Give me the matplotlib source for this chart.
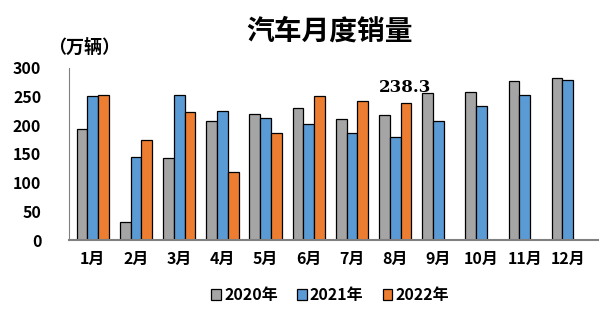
import numpy as np
import matplotlib.pyplot as plt

plt.rcParams['font.family'] = ['Noto Sans CJK SC', 'DejaVu Sans']

# 数据（万辆）
months = ['1月', '2月', '3月', '4月', '5月', '6月', '7月', '8月', '9月', '10月', '11月', '12月']
sales_2020 = [194.1, 31.0, 143.0, 207.0, 219.4, 230.0, 211.2, 218.6, 256.5, 257.3, 276.5, 283.1]
sales_2021 = [250.3, 145.5, 252.6, 225.2, 212.8, 201.5, 186.4, 179.9, 207.1, 233.3, 252.2, 278.6]
sales_2022 = [253.1, 173.7, 223.4, 118.1, 186.2, 250.2, 242.0, 238.3]

colors = ['#A5A5A5', '#5B9BD5', '#ED7D31']
labels = ['2020年', '2021年', '2022年']

fig = plt.figure(figsize=(6.06, 3.28), dpi=100)
ax = fig.add_axes([0.114, 0.268, 0.873, 0.525])

x = np.arange(len(months))
w = 0.25
for i, vals in enumerate([sales_2020, sales_2021, sales_2022]):
    xs = x[:len(vals)] + (i - 1) * w
    ax.bar(xs, vals, width=w, color=colors[i], edgecolor='black', linewidth=0.9, label=labels[i])

# 8月标注
ax.text(x[7] + w * 0.9, sales_2022[7] + 12, f'{sales_2022[7]}', ha='center', va='bottom',
        fontsize=12, fontweight='bold', family=['DejaVu Serif'])

ax.set_xlim(-0.55, 11.7)
ax.set_ylim(0, 300)
ax.set_yticks(range(0, 301, 50))
ax.set_xticks(x)
ax.set_xticklabels(months, fontsize=11.5, fontweight='bold')
for t in ax.get_yticklabels():
    t.set_fontsize(11.5)
    t.set_fontweight('bold')
ax.tick_params(length=0, pad=8)
ax.tick_params(axis='y', pad=20)

for s in ['top', 'right']:
    ax.spines[s].set_visible(False)
ax.spines['left'].set_color('#808080')
ax.spines['left'].set_linewidth(0.8)
ax.spines['bottom'].set_color('#808080')
ax.spines['bottom'].set_linewidth(1.5)

fig.text(0.543, 0.905, '汽车月度销量', ha='center', va='center', fontsize=20, fontweight='bold')
fig.text(0.08, 0.855, '（万辆）', ha='left', va='center', fontsize=13, fontweight='bold')

fig.legend(loc='center', bbox_to_anchor=(0.545, 0.1), ncol=3, frameon=False,
           handlelength=0.6, handleheight=0.6, handletextpad=0.2, columnspacing=1.2,
           prop={'size': 11.5, 'weight': 'bold'})

fig.savefig('out.png', dpi=100)
